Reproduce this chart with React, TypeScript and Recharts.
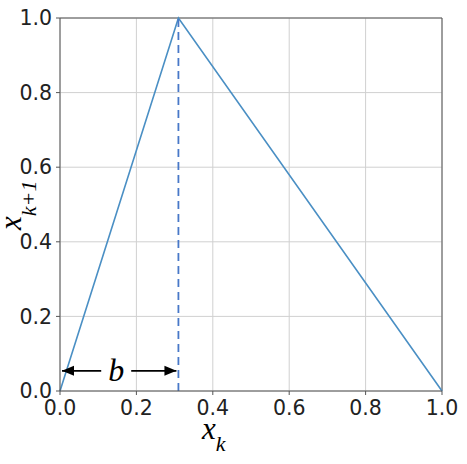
import {
  LineChart,
  Line,
  XAxis,
  YAxis,
  CartesianGrid,
  ReferenceLine,
} from "recharts";

// tent map peak position
const b = 0.31;

const xTicks = [0, 0.2, 0.4, 0.6, 0.8, 1.0];
const yTicks = [0, 0.2, 0.4, 0.6, 0.8, 1.0];

const tentX = [0, b, 1];
const tentY = [0, 1, 0];

const peakX = [b, b];
const peakY = [0, 1];

// double arrow marking b
const arrowX = [0, b];
const arrowY = 0.054;

const tentData = tentX.map((x, i) => ({ x, y: tentY[i] }));
const peakData = peakX.map((x, i) => ({ x, y: peakY[i] }));

const tickStyle = { fill: "#222", fontSize: 20.5, fontFamily: "DejaVu Sans" };
const frame = "#555";
const mathFont = "Liberation Serif";

const ArrowShape = (props: any) => {
  const { x1, y1, x2 } = props;
  const y = y1;
  const mid = (x1 + x2) / 2 - 3;
  const gap = 15;
  const h = 5;
  const len = 12;
  return (
    <g>
      <line x1={x1 + 2} y1={y} x2={mid - gap} y2={y} stroke="#000" strokeWidth={1.6} />
      <line x1={mid + gap} y1={y} x2={x2 - 2} y2={y} stroke="#000" strokeWidth={1.6} />
      <polygon points={`${x1 + 2},${y} ${x1 + 2 + len},${y - h} ${x1 + 2 + len},${y + h}`} fill="#000" />
      <polygon points={`${x2 - 2},${y} ${x2 - 2 - len},${y - h} ${x2 - 2 - len},${y + h}`} fill="#000" />
      <text x={mid} y={y + 10} textAnchor="middle" fontFamily={mathFont} fontStyle="italic" fontSize={32} fill="#000">
        b
      </text>
    </g>
  );
};

const XLabel = (props: any) => {
  const vb = props.viewBox;
  return (
    <text x={vb.x + 142} y={vb.y + 48} fontFamily={mathFont} fontStyle="italic" fontSize={31} fill="#000">
      x
      <tspan fontSize={22} dy={12}>k</tspan>
    </text>
  );
};

const YLabel = (props: any) => {
  const vb = props.viewBox;
  const x = vb.x + 21;
  const y = vb.y + 212;
  return (
    <text x={x} y={y} transform={`rotate(-90, ${x}, ${y})`} fontFamily={mathFont} fontStyle="italic" fontSize={31} fill="#000">
      x
      <tspan fontSize={22} dy={15}>k+1</tspan>
    </text>
  );
};

export default function App() {
  return (
    <div style={{ position: "absolute", left: 0, top: 0, background: "#fff" }}>
      <LineChart width={467} height={464} margin={{ top: 18, right: 25, left: 0, bottom: 0 }}>
        <CartesianGrid stroke="#d0d0d0" strokeWidth={1} />
        <XAxis
          type="number"
          dataKey="x"
          domain={[0, 1]}
          ticks={xTicks}
          tickFormatter={(v: number) => v.toFixed(1)}
          tick={tickStyle}
          tickSize={4}
          tickMargin={5}
          stroke={frame}
          height={73}
          allowDuplicatedCategory={false}
          label={<XLabel />}
        />
        <YAxis
          type="number"
          dataKey="y"
          domain={[0, 1]}
          ticks={yTicks}
          tickFormatter={(v: number) => v.toFixed(1)}
          tick={tickStyle}
          tickSize={4}
          tickMargin={4}
          stroke={frame}
          width={60}
          label={<YLabel />}
        />
        <ReferenceLine y={1} stroke={frame} />
        <ReferenceLine x={1} stroke={frame} />
        <Line
          data={tentData}
          dataKey="y"
          stroke="#4a8fc4"
          strokeWidth={1.6}
          dot={false}
          isAnimationActive={false}
        />
        <Line
          data={peakData}
          dataKey="y"
          stroke="#4878c8"
          strokeWidth={1.8}
          strokeDasharray="8 5"
          dot={false}
          isAnimationActive={false}
        />
        <ReferenceLine
          segment={[
            { x: arrowX[0], y: arrowY },
            { x: arrowX[1], y: arrowY },
          ]}
          shape={<ArrowShape />}
        />
      </LineChart>
    </div>
  );
}
